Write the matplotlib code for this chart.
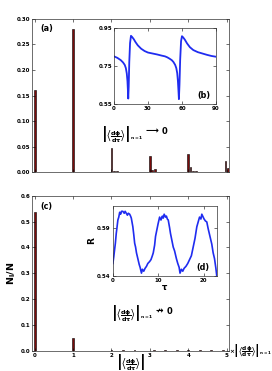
import numpy as np
import matplotlib
matplotlib.use("Agg")
import matplotlib.pyplot as plt

# histogram panel (a)
a_pos = [0, 1, 2, 2.06, 2.14, 3, 3.06, 3.14, 4, 4.06, 4.12, 4.2, 4.6, 4.97, 5.03, 5.08]
a_val = [0.16, 0.28, 0.047, 0.003, 0.002, 0.032, 0.005, 0.006, 0.036, 0.011, 0.003,
         0.002, 0.001, 0.021, 0.008, 0.005]

# histogram panel (c)
c_pos = [0, 1, 2.0, 2.3, 2.6, 3.1, 3.4, 3.7, 4.0, 4.3, 4.6, 4.9]
c_val = [0.535, 0.05, 0.003, 0.002, 0.002, 0.004, 0.003, 0.003, 0.003, 0.002, 0.002, 0.003]

# inset (b) : R vs tau
b_tau = [0, 3, 6, 8, 9.5, 10.5, 11.3, 11.9, 12.3, 12.6, 13.0, 13.5, 14.2, 15.0, 16, 17.5,
         19, 21, 24, 27, 30, 34, 38, 42, 45, 47, 49, 51, 52.5, 54, 55, 55.8, 56.4, 56.9,
         57.3, 57.8, 58.4, 59.2, 60, 61, 62.5, 64.5, 67, 70, 74, 78, 82, 86, 90]
b_R = [0.800, 0.792, 0.780, 0.768, 0.755, 0.738, 0.710, 0.670, 0.620, 0.578, 0.640, 0.770,
       0.870, 0.908, 0.902, 0.890, 0.875, 0.858, 0.840, 0.828, 0.820, 0.815, 0.810, 0.804,
       0.800, 0.795, 0.788, 0.780, 0.770, 0.755, 0.738, 0.712, 0.672, 0.620, 0.575, 0.650,
       0.780, 0.880, 0.906, 0.900, 0.888, 0.868, 0.848, 0.833, 0.822, 0.815, 0.808, 0.802,
       0.798]

# inset (d) : R vs tau (noisy)
d_tau = [0, 0.2, 0.37, 0.55, 0.74, 0.9, 1.1, 1.3, 1.5, 1.7, 1.9, 2.2, 2.5, 2.7, 2.95, 3.2,
         3.4, 3.7, 3.9, 4.06, 4.25, 4.4, 4.6, 4.8, 5.0, 5.2, 5.5, 5.8, 6.0, 6.3, 6.5, 6.8,
         7.1, 7.4, 7.7, 8.1, 8.4, 8.7, 8.9, 9.2, 9.4, 9.7, 9.96, 10.3, 10.6, 10.9, 11.1,
         11.3, 11.6, 11.8, 12.0, 12.2, 12.5, 12.7, 13.0, 13.3, 13.6, 14.0, 14.3, 14.6, 14.8,
         15.1, 15.4, 15.7, 16.1, 16.5, 17.0, 17.3, 17.7, 18.1, 18.5, 18.8, 19.1, 19.4, 19.6,
         19.9, 20.1, 20.4, 20.7, 21.0, 21.4, 21.8, 22.1, 22.4, 22.7, 22.9]
d_R = [0.553, 0.560, 0.567, 0.574, 0.584, 0.590, 0.598, 0.601, 0.606, 0.604, 0.607, 0.607,
       0.605, 0.607, 0.605, 0.603, 0.605, 0.604, 0.602, 0.600, 0.595, 0.591, 0.583, 0.574,
       0.570, 0.564, 0.558, 0.552, 0.549, 0.543, 0.547, 0.545, 0.548, 0.550, 0.553, 0.555,
       0.557, 0.561, 0.564, 0.572, 0.581, 0.588, 0.594, 0.601, 0.598, 0.602, 0.600, 0.604,
       0.601, 0.602, 0.599, 0.598, 0.590, 0.584, 0.577, 0.570, 0.566, 0.558, 0.553, 0.549,
       0.543, 0.547, 0.545, 0.548, 0.550, 0.553, 0.558, 0.561, 0.570, 0.579, 0.591, 0.596,
       0.601, 0.599, 0.604, 0.601, 0.599, 0.597, 0.596, 0.589, 0.581, 0.573, 0.564, 0.558,
       0.548, 0.540]

plt.rcParams["mathtext.fontset"] = "dejavusans"
plt.rcParams["mathtext.default"] = "bf"
plt.rcParams["font.weight"] = "bold"

bar_col = "#7a0a0a"
line_col = "#1f2cf0"
fs_tick = 4.0
fs_math = 4.6
dphi = r"\left|\left\langle\dfrac{d\phi}{d\tau}\right\rangle\right|"

fig = plt.figure(figsize=(2.72, 3.71), dpi=100)


def style(ax, size=fs_tick):
    ax.tick_params(direction="in", length=2.5, width=0.4, labelsize=size, pad=1.5,
                   top=True, right=True)
    for s in ax.spines.values():
        s.set_linewidth(0.5)
        s.set_color("#333333")
    for lab in ax.get_xticklabels() + ax.get_yticklabels():
        lab.set_fontweight("bold")


def limit_note(ax, x, y, arrow):
    # |<dphi/dtau>|_{n=1}  ->  0
    t = ax.text(x, y, "$" + dphi + "_{n=1}$", transform=ax.transAxes,
                fontsize=fs_math, va="center")
    a = ax.annotate("$" + arrow + "$", xy=(1, 0.62), xycoords=t, xytext=(0.3, 0),
                    textcoords="offset points", fontsize=6.5, va="center")
    ax.annotate("0", xy=(1, 0.5), xycoords=a, xytext=(1.0, 0),
                textcoords="offset points", fontsize=6, fontweight="bold", va="center")


# panel (a)
ax1 = fig.add_axes([0.119, 0.536, 0.724, 0.413])
ax1.bar(a_pos, a_val, width=0.045, color=bar_col, edgecolor="black", linewidth=0.4)
ax1.set_xlim(-0.06, 5.07)
ax1.set_ylim(0, 0.30)
ax1.set_yticks(np.arange(0, 0.301, 0.05))
ax1.set_yticklabels(["%.2f" % v for v in np.arange(0, 0.301, 0.05)])
ax1.set_xticks(range(6))
ax1.set_xticklabels([])
style(ax1)
ax1.text(0.04, 0.97, "(a)", transform=ax1.transAxes, fontsize=5.8, fontweight="bold", va="top")
limit_note(ax1, 0.35, 0.25, r"\longrightarrow")

# inset (b)
ax2 = fig.add_axes([0.419, 0.72, 0.375, 0.205])
ax2.plot(b_tau, b_R, color=line_col, lw=1.3)
ax2.set_xlim(0, 90)
ax2.set_ylim(0.55, 0.95)
ax2.set_xticks([0, 30, 60, 90])
ax2.set_yticks([0.55, 0.75, 0.95])
style(ax2)
ax2.text(0.82, 0.08, "(b)", transform=ax2.transAxes, fontsize=5.8, fontweight="bold")

# panel (c)
ax3 = fig.add_axes([0.119, 0.055, 0.724, 0.4175])
ax3.bar(c_pos, c_val, width=0.045, color=bar_col, edgecolor="black", linewidth=0.4)
ax3.set_xlim(-0.06, 5.07)
ax3.set_ylim(0, 0.6)
ax3.set_yticks(np.arange(0, 0.61, 0.1))
ax3.set_yticklabels(["%.1f" % v for v in np.arange(0, 0.61, 0.1)])
ax3.set_xticks(range(6))
style(ax3)
ax3.set_ylabel(r"$\mathbf{N_l/N}$", fontsize=6.8, labelpad=2)
ax3.set_xlabel("$" + dphi + "$", fontsize=fs_math)
ax3.xaxis.set_label_coords(0.5, -0.012)
ax3.text(0.04, 0.96, "(c)", transform=ax3.transAxes, fontsize=5.8, fontweight="bold", va="top")
limit_note(ax3, 0.40, 0.24, r"\nrightarrow")
ax3.text(1.0, 0.0, r"$\mathrm{\times}" + dphi + "_{n=1}$",
         transform=ax3.transAxes, fontsize=4.2, va="center")

# inset (d)
ax4 = fig.add_axes([0.415, 0.256, 0.382, 0.189])
ax4.plot(d_tau, d_R, color=line_col, lw=1.2)
ax4.set_xlim(0, 22.9)
ax4.set_ylim(0.54, 0.6126)
ax4.set_xticks([0, 10, 20])
ax4.set_yticks([0.54, 0.59])
style(ax4)
ax4.set_xlabel(r"$\tau$", fontsize=6, labelpad=0)
ax4.set_ylabel("R", fontsize=6.5, fontweight="bold", labelpad=1)
ax4.text(0.8, 0.08, "(d)", transform=ax4.transAxes, fontsize=5.8, fontweight="bold")

fig.savefig("out.png", dpi=100)
